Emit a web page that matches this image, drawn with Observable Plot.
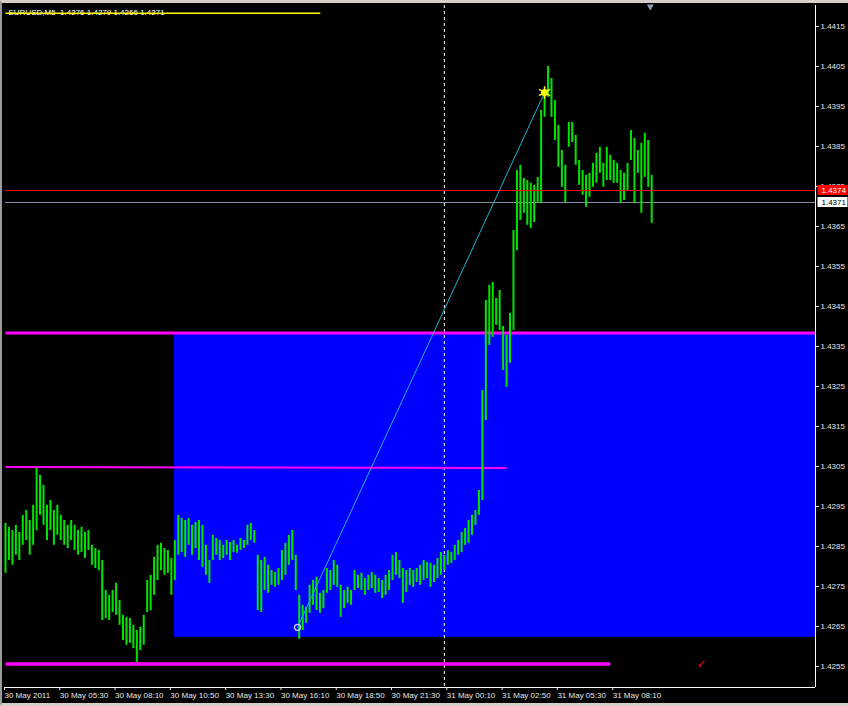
<!DOCTYPE html>
<html>
<head>
<meta charset="utf-8">
<script src="https://cdn.jsdelivr.net/npm/d3@7"></script>
<script src="https://cdn.jsdelivr.net/npm/@observablehq/plot@0.6"></script>
<style>
  html, body { margin: 0; padding: 0; background: #000; }
  #wrap { position: relative; width: 848px; height: 706px; overflow: hidden; background: #000; }
  #wrap svg { position: absolute; left: 0; top: 0; }
  #chrome { position: absolute; left: 0; top: 0; width: 848px; height: 706px; box-sizing: border-box;
            border-top: 3px solid #d4d0c8; border-left: 2px solid #9a9a9a; border-bottom: 3px solid #d4d0c8; pointer-events: none; }
</style>
</head>
<body>
<div id="wrap"><div id="chrome"></div></div>
<script>
// ---------- data ----------
const symbolTitle = "EURUSD,M5  1.4276 1.4279 1.4266 1.4271";
const barStepMinutes = 10;            // one entry per 10 minutes, first entry 30 May 02:50
const highs = [
  1.42908,1.42898,1.42890,1.42903,1.42885,1.42928,1.42940,1.42915,1.42953,1.43045,
  1.43028,1.43003,1.42953,1.42965,1.42940,1.42953,1.42928,1.42915,1.42903,1.42915,
  1.42903,1.42890,1.42898,1.42885,1.42890,1.42853,1.42845,1.42840,1.42815,1.42740,
  1.42728,1.42740,1.42758,1.42715,1.42678,1.42673,1.42670,1.42653,1.42640,1.42648,
  1.42678,1.42765,1.42778,1.42823,1.42853,1.42858,1.42845,1.42840,1.42820,1.42865,
  1.42928,1.42920,1.42915,1.42920,1.42903,1.42910,1.42915,1.42903,1.42853,1.42815,
  1.42878,1.42870,1.42865,1.42853,1.42865,1.42860,1.42865,1.42853,1.42870,1.42865,
  1.42903,1.42908,1.42890,1.42828,1.42815,1.42823,1.42803,1.42790,1.42785,1.42795,
  1.42840,1.42858,1.42878,1.42890,1.42828,1.42728,1.42703,1.42698,1.42753,1.42765,
  1.42773,1.42733,1.42740,1.42795,1.42790,1.42815,1.42803,1.42753,1.42740,1.42748,
  1.42740,1.42790,1.42778,1.42783,1.42770,1.42778,1.42785,1.42778,1.42770,1.42765,
  1.42778,1.42790,1.42828,1.42835,1.42815,1.42795,1.42790,1.42795,1.42790,1.42795,
  1.42803,1.42815,1.42810,1.42808,1.42803,1.42820,1.42835,1.42828,1.42840,1.42835,
  1.42853,1.42865,1.42885,1.42895,1.42915,1.42928,1.42940,1.42990,1.43240,1.43465,
  1.43503,1.43510,1.43470,1.43490,1.43400,1.43378,1.43433,1.43640,1.43790,1.43803,
  1.43770,1.43765,1.43758,1.43753,1.43773,1.43940,1.43990,1.44050,1.44020,1.43965,
  1.43903,1.43840,1.43803,1.43910,1.43910,1.43878,1.43815,1.43790,1.43778,1.43783,
  1.43808,1.43833,1.43848,1.43808,1.43848,1.43828,1.43815,1.43808,1.43790,1.43783,
  1.43808,1.43890,1.43870,1.43840,1.43858,1.43883,1.43865,1.43778
];
const lows = [
  1.42783,1.42815,1.42803,1.42828,1.42815,1.42853,1.42865,1.42828,1.42853,1.42890,
  1.42928,1.42903,1.42865,1.42890,1.42853,1.42878,1.42865,1.42853,1.42845,1.42865,
  1.42840,1.42828,1.42835,1.42820,1.42840,1.42803,1.42795,1.42790,1.42665,1.42670,
  1.42665,1.42685,1.42678,1.42653,1.42615,1.42603,1.42608,1.42595,1.42560,1.42590,
  1.42603,1.42685,1.42690,1.42728,1.42765,1.42790,1.42778,1.42783,1.42728,1.42765,
  1.42828,1.42835,1.42823,1.42853,1.42828,1.42845,1.42815,1.42798,1.42778,1.42758,
  1.42815,1.42828,1.42815,1.42820,1.42828,1.42815,1.42835,1.42833,1.42840,1.42845,
  1.42853,1.42865,1.42858,1.42690,1.42685,1.42740,1.42733,1.42753,1.42748,1.42753,
  1.42765,1.42778,1.42803,1.42815,1.42740,1.42618,1.42640,1.42658,1.42683,1.42703,
  1.42690,1.42683,1.42695,1.42733,1.42740,1.42753,1.42748,1.42673,1.42695,1.42708,
  1.42703,1.42740,1.42745,1.42740,1.42728,1.42740,1.42745,1.42733,1.42735,1.42720,
  1.42728,1.42740,1.42765,1.42778,1.42770,1.42708,1.42735,1.42753,1.42748,1.42760,
  1.42753,1.42765,1.42770,1.42748,1.42760,1.42770,1.42778,1.42790,1.42803,1.42808,
  1.42815,1.42828,1.42835,1.42853,1.42858,1.42878,1.42903,1.42928,1.42965,1.43165,
  1.43353,1.43373,1.43403,1.43390,1.43290,1.43248,1.43308,1.43390,1.43590,1.43665,
  1.43683,1.43653,1.43645,1.43660,1.43710,1.43708,1.43923,1.43973,1.43923,1.43865,
  1.43798,1.43748,1.43710,1.43848,1.43860,1.43803,1.43753,1.43728,1.43698,1.43723,
  1.43748,1.43758,1.43783,1.43748,1.43765,1.43765,1.43758,1.43758,1.43708,1.43715,
  1.43740,1.43815,1.43708,1.43783,1.43683,1.43773,1.43748,1.43658
];
// time axis (minutes after 30 May 02:50)
const timeTicks  = [0, 160, 320, 480, 640, 800, 960, 1120, 1280, 1440, 1600, 1760];
const timeLabels = ["30 May 2011", "30 May 05:30", "30 May 08:10", "30 May 10:50", "30 May 13:30",
                    "30 May 16:10", "30 May 18:50", "30 May 21:30", "31 May 00:10", "31 May 02:50",
                    "31 May 05:30", "31 May 08:10"];
const timeDomain = [0, 2344];
const priceTicks = [1.4255, 1.4265, 1.4275, 1.4285, 1.4295, 1.4305, 1.4315, 1.4325, 1.4335,
                    1.4345, 1.4355, 1.4365, 1.4375, 1.4385, 1.4395, 1.4405, 1.4415];
const priceDomain = [1.424975, 1.442025];
const askPrice = 1.4374;
const bidPrice = 1.4371;
const daySeparator = 1270;                  // 31 May 00:00
const zone = {t1: 489, t2: 2344, p1: 1.42623, p2: 1.43384};
const magentaLevels = [
  {t1: 0, t2: 2344, p1: 1.43384, p2: 1.43384, w: 3},
  {t1: 0, t2: 1450, p1: 1.43049, p2: 1.43046, w: 2},
  {t1: 0, t2: 1750, p1: 1.42556, p2: 1.42556, w: 3.5}
];
const yellowLevel = {t1: 0, t2: 911, p: 1.44183};
const trendPoints = [{t: 845, p: 1.42648}, {t: 1560, p: 1.43985}];
const checkMark = {t: 2014, p: 1.42557};
const shiftMarker = 1866;

// ---------- build ----------
const bars = highs.map((h, i) => ({t: i * barStepMinutes, high: h, low: lows[i]}));
const fmt4 = d3.format(".4f");
const labelOf = new Map(timeTicks.map((t, i) => [t, timeLabels[i]]));
const FONT = "'Liberation Sans', Arial, sans-serif";

const priceTag = (price, bg, fg) => (index, scales, values, dims) => {
  const py = scales.y(price);
  const x0 = dims.width - dims.marginRight + 2.5;
  const g = d3.create("svg:g");
  g.append("rect").attr("x", x0).attr("y", py - 5).attr("width", 30).attr("height", 10).attr("fill", bg);
  g.append("text").attr("x", x0 + 4).attr("y", py + 3).attr("fill", fg)
    .attr("text-anchor", "start").attr("font-size", 8).attr("font-family", FONT).text(fmt4(price));
  return g.node();
};

const chart = Plot.plot({
  width: 848,
  height: 706,
  marginLeft: 5,
  marginRight: 33,
  marginTop: 5,
  marginBottom: 19,
  style: {background: "#000", color: "#e6e6e6", fontFamily: FONT, fontSize: "8px"},
  x: {type: "linear", domain: timeDomain},
  y: {type: "linear", domain: priceDomain},
  marks: [
    Plot.rect([zone], {x1: "t1", x2: "t2", y1: "p1", y2: "p2", fill: "#0000FF"}),
    Plot.ruleX([daySeparator], {stroke: "#ffffff", strokeDasharray: "3,3", strokeWidth: 1}),
    Plot.ruleY([bidPrice], {stroke: "#7f8fa6", strokeWidth: 1}),
    Plot.link(magentaLevels, {x1: "t1", x2: "t2", y1: "p1", y2: "p2", stroke: "#FF00FF", strokeWidth: d => d.w}),
    Plot.ruleX(bars, {x: "t", y1: "low", y2: "high", stroke: "#00e600", strokeWidth: 2}),
    Plot.ruleY([askPrice], {stroke: "#FF0000", strokeWidth: 1}),
    Plot.line(trendPoints, {x: "t", y: "p", stroke: "#1fb2d6", strokeWidth: 1}),
    Plot.dot([trendPoints[0]], {x: "t", y: "p", r: 3, stroke: "#d0d0ff", strokeWidth: 1.3, fill: "none"}),
    Plot.dot([trendPoints[1]], {x: "t", y: "p", r: 6, symbol: "asterisk", stroke: "#FFFF00", strokeWidth: 1.5}),
    Plot.dot([trendPoints[1]], {x: "t", y: "p", r: 3.5, fill: "#FFFF00"}),
    Plot.text([checkMark], {x: "t", y: "p", text: () => "\u2713", fill: "#FF0000", fontSize: 12, fontWeight: "bold", fontFamily: "DejaVu Sans"}),
    Plot.text([symbolTitle], {frameAnchor: "top-left", dx: 3, dy: 4, fill: "#ffffff", fontSize: 8, textAnchor: "start"}),
    Plot.link([yellowLevel], {x1: "t1", x2: "t2", y1: "p", y2: "p", stroke: "#FFFF00", strokeWidth: 1.5}),
    Plot.dot([shiftMarker], {x: d => d, frameAnchor: "top", symbol: "triangle", rotate: 180, r: 2.6, fill: "#8da0b8", dy: 1}),
    Plot.ruleX([timeDomain[1]], {stroke: "#ffffff", strokeWidth: 1}),
    Plot.ruleY([priceDomain[0]], {stroke: "#ffffff", strokeWidth: 1}),
    Plot.axisY(priceTicks, {anchor: "right", tickFormat: fmt4, tickSize: 3, tickPadding: 2, fontSize: 8, stroke: "#e6e6e6", fill: "#e6e6e6"}),
    Plot.axisX(timeTicks, {anchor: "bottom", tickFormat: d => labelOf.get(d), tickSize: 3, tickPadding: 2,
                           textAnchor: "start", dx: -1, fontSize: 8, stroke: "#e6e6e6", fill: "#e6e6e6"}),
    priceTag(askPrice, "#FF0000", "#ffffff"),
    priceTag(bidPrice, "#ffffff", "#000000")
  ]
});
document.getElementById("wrap").insertBefore(chart, document.getElementById("chrome"));
</script>
</body>
</html>
